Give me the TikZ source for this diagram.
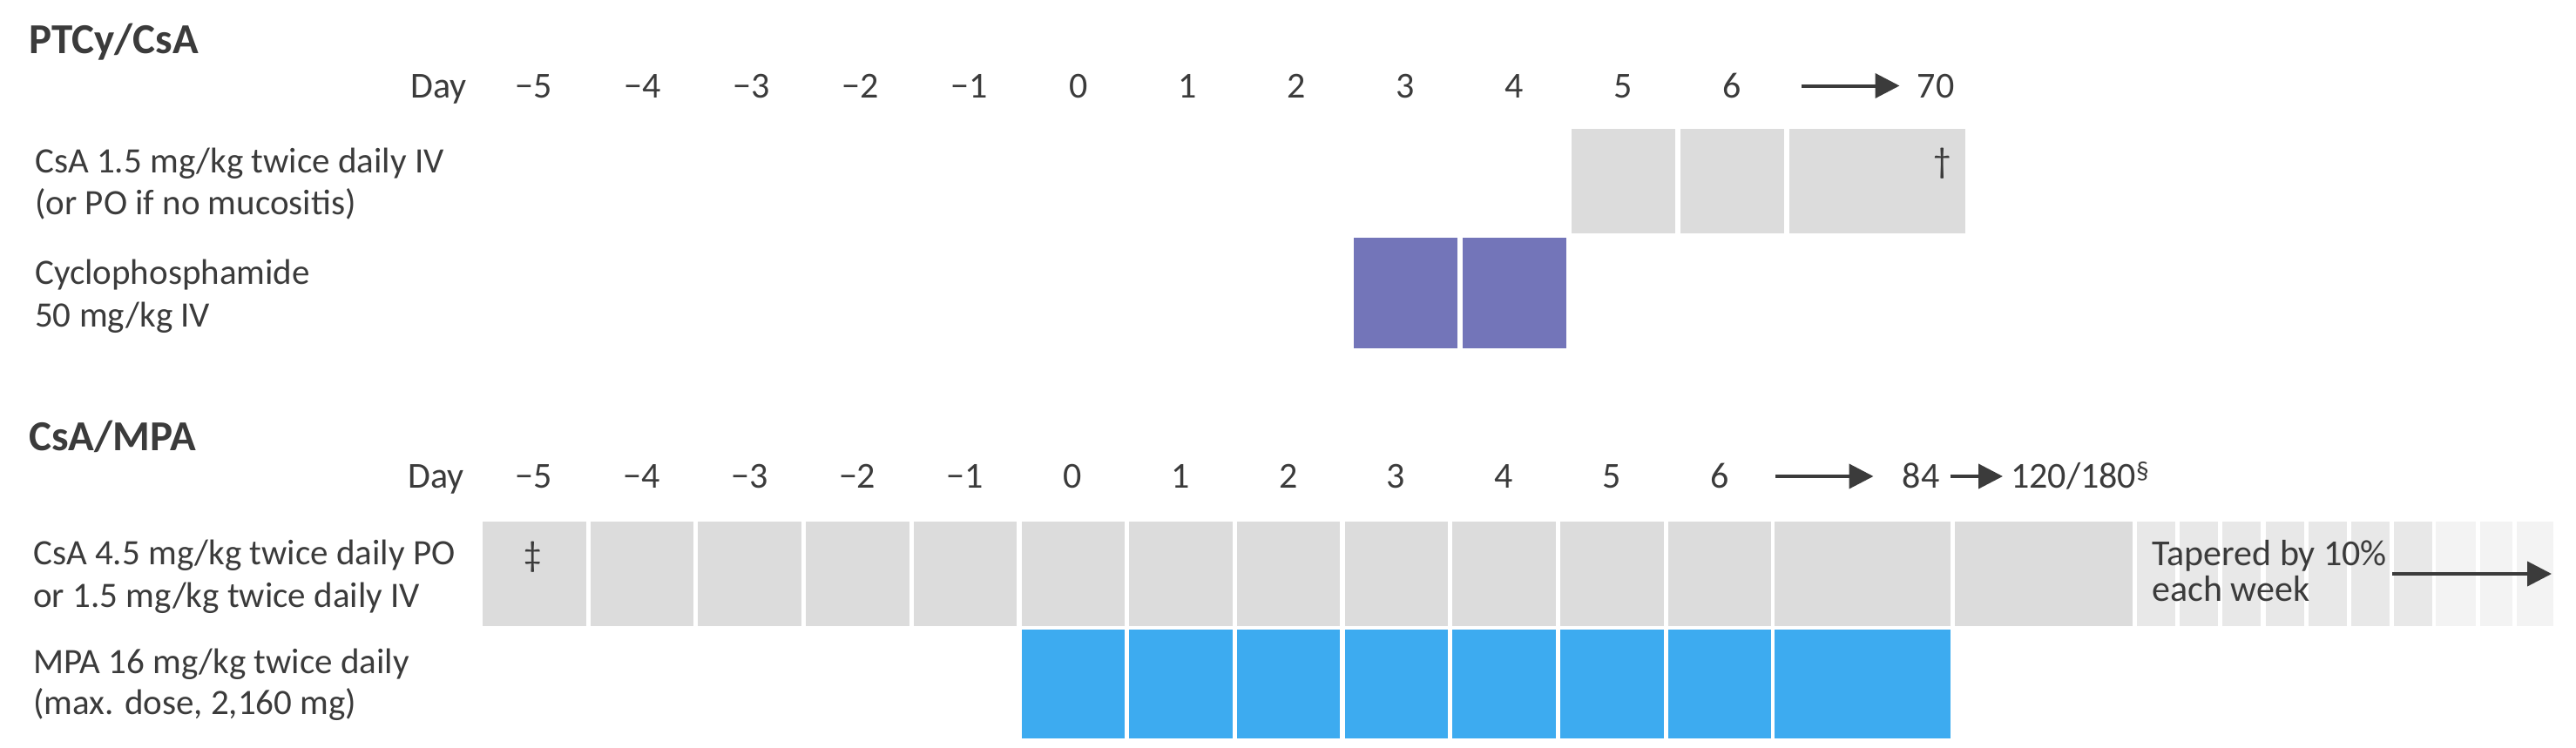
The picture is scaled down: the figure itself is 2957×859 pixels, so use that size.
\documentclass[tikz,border=0pt]{standalone}
\usepackage{fontspec}
\setmainfont{Carlito}
\usetikzlibrary{arrows.meta}
\definecolor{txt}{HTML}{3B3B3B}
\definecolor{gbox}{HTML}{DCDCDC}
\definecolor{tbox}{HTML}{E8E8E8}
\definecolor{lbox}{HTML}{F3F3F3}
\definecolor{purp}{HTML}{7375B9}
\definecolor{blu}{HTML}{3DABF0}
\begin{document}
\begin{tikzpicture}[x=1pt,y=-1pt,
  txtnode/.style={inner sep=0pt, text=txt},
  lbl/.style={txtnode, anchor=base west, font=\fontsize{41}{48}\selectfont},
  daylbl/.style={txtnode, anchor=base, font=\fontsize{42}{50}\selectfont},
  ttl/.style={txtnode, anchor=base west, font=\fontsize{49}{58}\selectfont\bfseries},
  arr/.style={draw=txt, line width=4pt, -{Triangle[length=28pt,width=28pt]}},
  greycell/.style={fill=gbox},
  tapercell/.style={fill=tbox},
  lightcell/.style={fill=lbox},
  purpcell/.style={fill=purp},
  bluecell/.style={fill=blu},
  ]
\useasboundingbox[fill=white] (0,0) rectangle (2957,859);

% ---------------- PTCy/CsA ----------------
\node[ttl] (titleA) at (33,62) {PTCy/CsA};
\node[daylbl, anchor=base east] (dayA) at (536,112) {Day};
\foreach \i/\d in {0/−5,1/−4,2/−3,3/−2,4/−1,5/0,6/1,7/2,8/3,9/4,10/5,11/6}{
  \node[daylbl] (tA\i) at ({613+125*\i},112) {\d};
}
\node[daylbl] (tA70) at (2222,112) {70};
\coordinate (arrA) at (2068,98.5);
\draw[arr] (arrA) -- ([xshift=-20pt]tA70.west |- arrA);

\node[lbl] (lA1) at (40,198) {CsA 1.5 mg/kg twice daily IV};
\node[lbl] (lA2) at (40,246) {(or PO if no mucositis)};
\node[lbl] (lA3) at (40,326) {Cyclophosphamide};
\node[lbl] (lA4) at (40,375) {50 mg/kg IV};

\fill[greycell] (1804,148) rectangle (1923,268);
\fill[greycell] (1929,148) rectangle (2048,268);
\fill[greycell] (2054,148) rectangle (2256,268);
\node[txtnode, font=\fontsize{41}{48}\selectfont] (dag) at (2230,188) {†};

\fill[purpcell] (1554,273) rectangle (1673,400);
\fill[purpcell] (1679,273) rectangle (1798,400);

% ---------------- CsA/MPA ----------------
\node[ttl] (titleB) at (33,517) {CsA/MPA};
\node[daylbl, anchor=base east] (dayB) at (533,560) {Day};
\foreach \i/\d in {0/−5,1/−4,2/−3,3/−2,4/−1,5/0,6/1,7/2,8/3,9/4,10/5,11/6}{
  \node[daylbl] (tB\i) at ({613+123.7*\i},560) {\d};
}
\node[daylbl] (tB84) at (2205,560) {84};
\node[daylbl, anchor=base west] (tB120) at (2308,560) {120/180\textsuperscript{§}};
\coordinate (arrB) at (2038,547);
\draw[arr] (arrB) -- ([xshift=-33pt]tB84.west |- arrB);
\draw[arr] ([xshift=12pt]tB84.east |- arrB) -- ([xshift=-9pt]tB120.west |- arrB);

\node[lbl] (lB1) at (38,648) {CsA 4.5 mg/kg twice daily PO};
\node[lbl] (lB2) at (38,697) {or 1.5 mg/kg twice daily IV};
\node[lbl] (lB3) at (38,773) {MPA 16 mg/kg twice daily};
\node[lbl] (lB4) at (38,820) {(max. dose, 2,160 mg)};

\foreach \i in {0,...,11}{
  \fill[greycell] ({554+123.7*\i},599) rectangle ({672.5+123.7*\i},719);
}
\fill[greycell] (2037,599) rectangle (2239,719);
\fill[greycell] (2244,599) rectangle (2448,719);
\foreach \x in {2453,2502,2551,2601,2650,2699,2748}{
  \fill[tapercell] (\x,599) rectangle ({\x+44},719);
}
\fill[lightcell] (2796,599) rectangle (2842,719);
\fill[lightcell] (2847,599) rectangle (2884,719);
\fill[lightcell] (2889,599) rectangle (2931,719);
\node[txtnode, font=\fontsize{41}{48}\selectfont] (ddag) at (612,640) {‡};

\foreach \i in {5,...,11}{
  \fill[bluecell] ({554+123.7*\i},723) rectangle ({672.5+123.7*\i},848);
}
\fill[bluecell] (2037,723) rectangle (2239,848);

\node[daylbl, anchor=base west] (tp1) at (2470,649) {Tapered by 10\%};
\node[daylbl, anchor=base west] (tp2) at (2470,690) {each week};
\coordinate (tpS) at (2746,659);
\coordinate (tpE) at (2929,659);
\draw[arr] (tpS) -- (tpE);
\end{tikzpicture}
\end{document}
